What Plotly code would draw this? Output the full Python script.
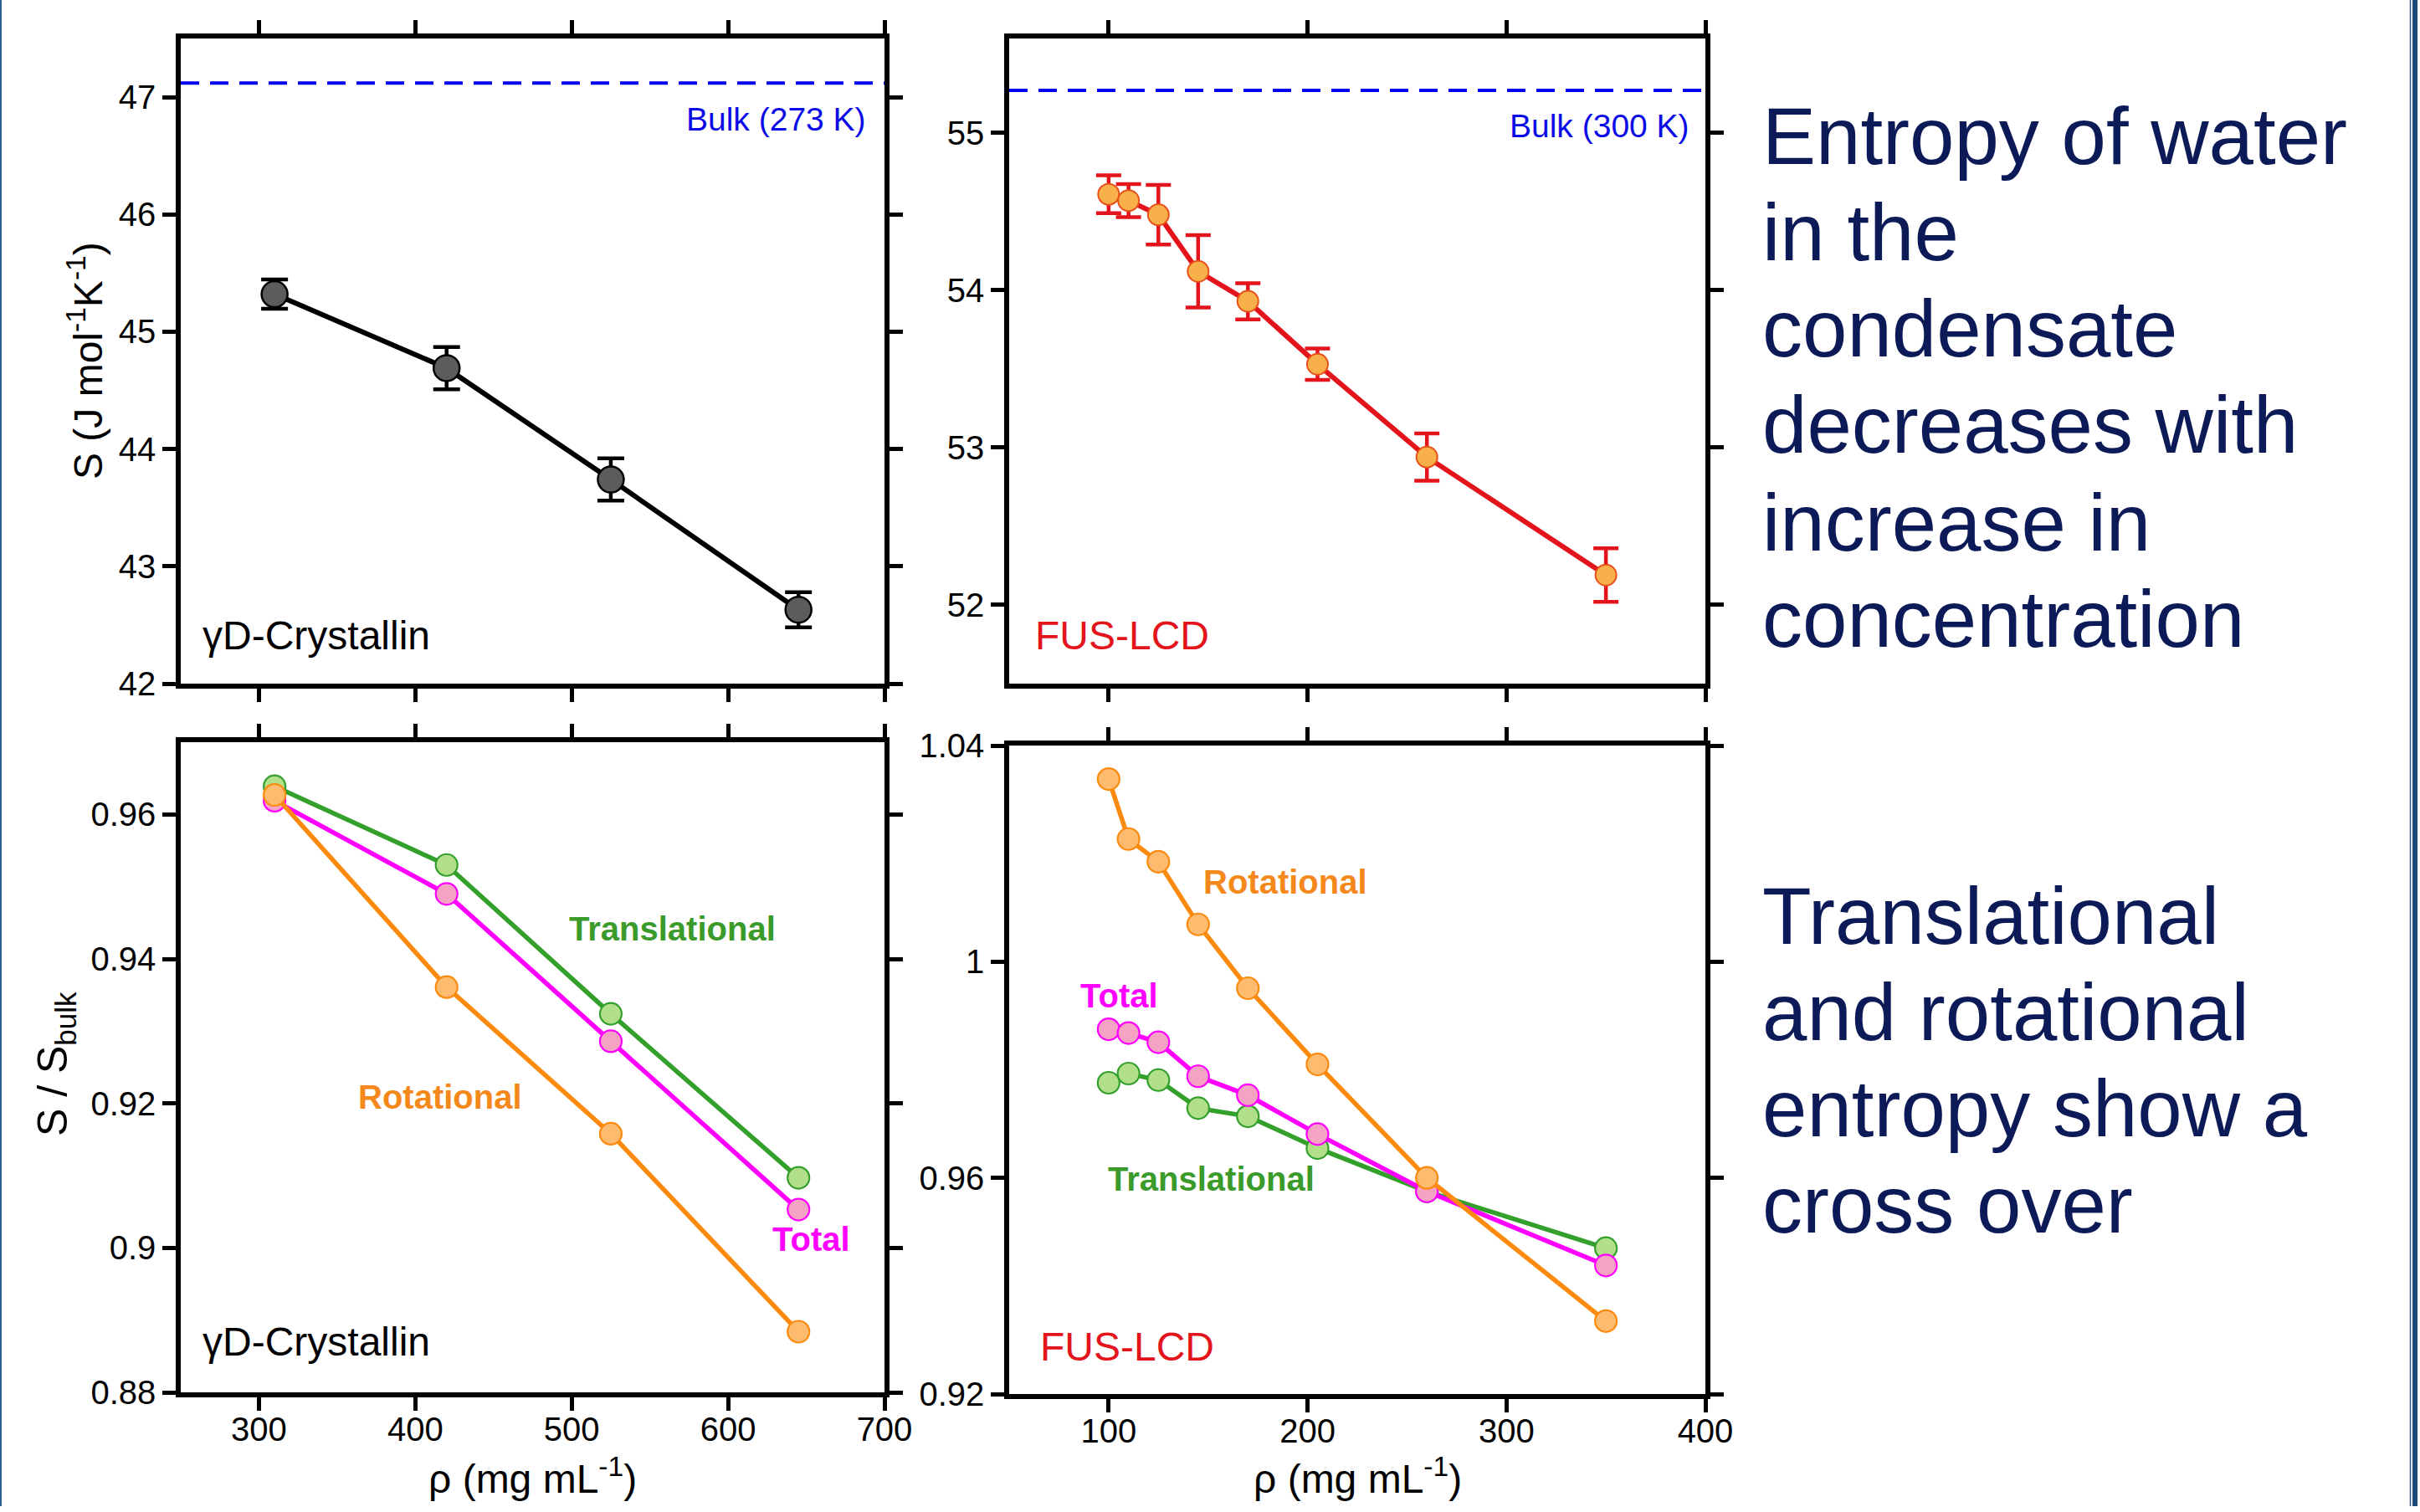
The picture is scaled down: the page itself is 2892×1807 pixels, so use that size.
import plotly.graph_objects as go

# ---------------- data ----------------
gd_rho = [310, 420, 525, 645]
gd_S = [45.32, 44.69, 43.74, 42.63]
gd_err = [0.125, 0.18, 0.18, 0.15]

fus_rho = [100, 110, 125, 145, 170, 205, 260, 350]
fus_S = [54.61, 54.57, 54.48, 54.12, 53.93, 53.53, 52.94, 52.19]
fus_err = [0.12, 0.105, 0.19, 0.23, 0.115, 0.10, 0.15, 0.17]

bulk_273 = 47.12
bulk_300 = 55.27

gd_trans = [0.9639, 0.9530, 0.9324, 0.9097]
gd_total = [0.9619, 0.9490, 0.9286, 0.9053]
gd_rot = [0.9627, 0.9361, 0.9158, 0.8884]

fus_trans = [0.9776, 0.9793, 0.9781, 0.9729, 0.9714, 0.9655, 0.9575, 0.9470]
fus_total = [0.9875, 0.9868, 0.9851, 0.9788, 0.9753, 0.9681, 0.9575, 0.9438]
fus_rot = [1.0338, 1.0227, 1.0185, 1.0069, 0.9951, 0.9810, 0.9600, 0.9335]

text_block1 = ["Entropy of water", "in the", "condensate", "decreases with",
               "increase in", "concentration"]
text_block2 = ["Translational", "and rotational", "entropy show a", "cross over"]

# ---------------- style ----------------
W, H = 2892, 1800          # figure size (kept slightly short so the page never scrolls)
FONT = "Liberation Sans, Arial, Helvetica, sans-serif"
GREEN, GREEN_F = "#33a02c", "#b2df8a"
MAG, MAG_F = "#ff00ff", "#f5a3c2"
ORG, ORG_F = "#fb8a0e", "#fdbb6f"
RED = "#e3141b"
NAVY = "#0c1a57"

def px_x(p):
    return p / W

def px_y(p):
    return 1 - p / H

L_DOM = [px_x(216), px_x(1057)]
R_DOM = [px_x(1206), px_x(2038)]
T_DOM = [px_y(817), px_y(46)]
B_DOM_L = [px_y(1664), px_y(887)]
B_DOM_R = [px_y(1666), px_y(891)]

fig = go.Figure()

# top-left: gammaD-crystallin absolute entropy
fig.add_trace(go.Scatter(
    x=gd_rho, y=gd_S, mode="lines+markers", xaxis="x", yaxis="y",
    line=dict(color="black", width=6),
    marker=dict(size=31, color="#5c5c5c", line=dict(color="black", width=2.5)),
    error_y=dict(type="data", array=gd_err, color="black", thickness=4.5, width=16),
    showlegend=False))

# top-right: FUS-LCD absolute entropy
fig.add_trace(go.Scatter(
    x=fus_rho, y=fus_S, mode="lines+markers", xaxis="x2", yaxis="y2",
    line=dict(color=RED, width=6),
    marker=dict(size=25, color="#f8b04a", line=dict(color="#e8501a", width=2)),
    error_y=dict(type="data", array=fus_err, color=RED, thickness=4.5, width=15),
    showlegend=False))

# bottom-left
for ys, lc, fc in [(gd_trans, GREEN, GREEN_F), (gd_total, MAG, MAG_F), (gd_rot, ORG, ORG_F)]:
    fig.add_trace(go.Scatter(
        x=gd_rho, y=ys, mode="lines+markers", xaxis="x3", yaxis="y3",
        line=dict(color=lc, width=5.5),
        marker=dict(size=26, color=fc, line=dict(color=lc, width=2.2)),
        showlegend=False))

# bottom-right
for ys, lc, fc in [(fus_trans, GREEN, GREEN_F), (fus_total, MAG, MAG_F), (fus_rot, ORG, ORG_F)]:
    fig.add_trace(go.Scatter(
        x=fus_rho, y=ys, mode="lines+markers", xaxis="x4", yaxis="y4",
        line=dict(color=lc, width=5.5),
        marker=dict(size=26, color=fc, line=dict(color=lc, width=2.2)),
        showlegend=False))

ax = dict(showline=True, linecolor="black", linewidth=5.5, mirror="ticks",
          ticks="outside", ticklen=16, tickwidth=5, tickcolor="black",
          showgrid=False, zeroline=False, automargin=False,
          tickfont=dict(family=FONT, size=40, color="black"))
xax = dict(ax, ticklabelstandoff=-12)

fig.update_layout(
    width=W, height=H, autosize=False,
    margin=dict(l=0, r=0, t=0, b=0, pad=0),
    paper_bgcolor="white", plot_bgcolor="white",
    font=dict(family=FONT, color="black"),
    xaxis=dict(xax, domain=L_DOM, range=[250, 700], tickvals=[300, 400, 500, 600, 700],
               showticklabels=False, anchor="y"),
    yaxis=dict(ax, domain=T_DOM, range=[42, 47.5], tickvals=[42, 43, 44, 45, 46, 47],
               anchor="x"),
    xaxis2=dict(xax, domain=R_DOM, range=[50, 400], tickvals=[100, 200, 300, 400],
                showticklabels=False, anchor="y2"),
    yaxis2=dict(ax, domain=T_DOM, range=[51.5, 55.6], tickvals=[52, 53, 54, 55],
                anchor="x2"),
    xaxis3=dict(xax, domain=L_DOM, range=[250, 700], tickvals=[300, 400, 500, 600, 700],
                anchor="y3"),
    yaxis3=dict(ax, domain=B_DOM_L, range=[0.88, 0.97],
                tickvals=[0.88, 0.90, 0.92, 0.94, 0.96],
                ticktext=["0.88", "0.9", "0.92", "0.94", "0.96"], anchor="x3"),
    xaxis4=dict(xax, domain=R_DOM, range=[50, 400], tickvals=[100, 200, 300, 400],
                anchor="y4"),
    yaxis4=dict(ax, domain=B_DOM_R, range=[0.92, 1.04],
                tickvals=[0.92, 0.96, 1.0, 1.04],
                ticktext=["0.92", "0.96", "1", "1.04"], anchor="x4"),
)

shapes = [
    dict(type="line", xref="x domain", yref="y", x0=0, x1=1, y0=bulk_273, y1=bulk_273,
         line=dict(color="#0000ee", width=4, dash="22px,13px")),
    dict(type="line", xref="x2 domain", yref="y2", x0=0, x1=1, y0=bulk_300, y1=bulk_300,
         line=dict(color="#0000ee", width=4, dash="22px,13px")),
    # slide frame borders
    dict(type="line", xref="paper", yref="paper", x0=px_x(1), x1=px_x(1), y0=0, y1=1,
         line=dict(color="#2b5f8e", width=2)),
    dict(type="line", xref="paper", yref="paper", x0=px_x(2880.5), x1=px_x(2880.5),
         y0=0, y1=1, line=dict(color="#2a5a88", width=1.5)),
    dict(type="line", xref="paper", yref="paper", x0=px_x(2886), x1=px_x(2886),
         y0=0, y1=1, line=dict(color="#1d4a78", width=6)),
]
fig.update_layout(shapes=shapes)

ann = []

def A(text, x, y, xref, yref, size, color="black", xanchor="center", bold=False,
      angle=0, yanchor="middle"):
    if bold:
        text = "<b>" + text + "</b>"
    ann.append(dict(text=text, x=x, y=y, xref=xref, yref=yref, showarrow=False,
                    xanchor=xanchor, yanchor=yanchor, textangle=angle,
                    font=dict(family=FONT, size=size, color=color)))

# bulk labels
A("Bulk (273 K)", 0.976, 0.875, "x domain", "y domain", 39, "#0a0ae6", xanchor="right")
A("Bulk (300 K)", 0.979, 0.865, "x2 domain", "y2 domain", 39, "#0a0ae6", xanchor="right")

# system labels
A("γD-Crystallin", 0.029, 0.074, "x domain", "y domain", 48, xanchor="left")
A("FUS-LCD", 0.035, 0.074, "x2 domain", "y2 domain", 48, RED, xanchor="left")
A("γD-Crystallin", 0.029, 0.0785, "x3 domain", "y3 domain", 48, xanchor="left")
A("FUS-LCD", 0.042, 0.0735, "x4 domain", "y4 domain", 48, RED, xanchor="left")

# series labels
A("Translational", 564.6, 0.9442, "x3", "y3", 40, "#3a9a2a", bold=True)
A("Rotational", 415.9, 0.9209, "x3", "y3", 40, "#f5881a", bold=True)
A("Total", 653.4, 0.9012, "x3", "y3", 40, MAG, bold=True)
A("Rotational", 188.8, 1.0148, "x4", "y4", 40, "#f5881a", bold=True)
A("Total", 105.5, 0.9937, "x4", "y4", 40, MAG, bold=True)
A("Translational", 151.8, 0.9598, "x4", "y4", 40, "#3a9a2a", bold=True)

# axis titles
A("S (J mol<sup>-1</sup>K<sup>-1</sup>)", px_x(102), px_y(431), "paper", "paper", 48, angle=-90)
A("S / S<sub>bulk</sub>", px_x(66), px_y(1272), "paper", "paper", 50, angle=-90)
A("ρ (mg mL<sup>-1</sup>)", px_x(636), px_y(1764), "paper", "paper", 48)
A("ρ (mg mL<sup>-1</sup>)", px_x(1622), px_y(1764), "paper", "paper", 48)

# right-hand text
y1 = [163, 278, 393, 508, 624, 739]
for line, yy in zip(text_block1, y1):
    A(line, px_x(2104), px_y(yy), "paper", "paper", 96, NAVY, xanchor="left")
y2 = [1094, 1209, 1324, 1439]
for line, yy in zip(text_block2, y2):
    A(line, px_x(2104), px_y(yy), "paper", "paper", 96, NAVY, xanchor="left")

fig.update_layout(annotations=ann)

fig.write_html("out.html")
